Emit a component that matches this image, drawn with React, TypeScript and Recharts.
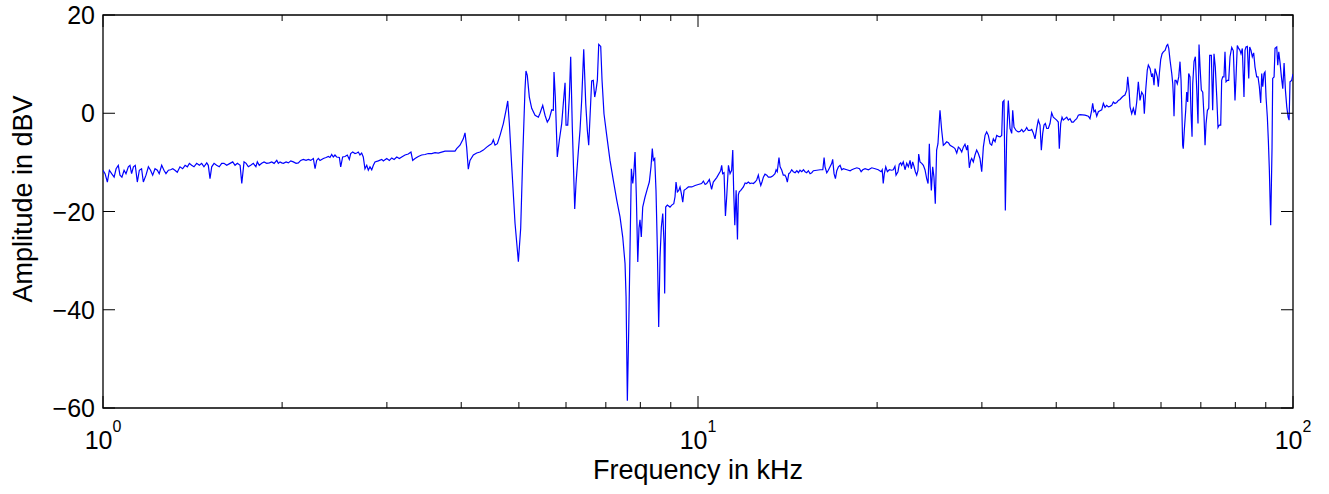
import React from "react";
import { Line, LineChart, XAxis, YAxis, Label, ReferenceArea } from "recharts";

// measured spectrum, [frequency in kHz, amplitude in dBV], split by band
const band1to27: [number, number][] = [
  [1.0, -11.6], [1.008, -12.3], [1.017, -14.0], [1.025, -11.6], [1.034, -12.3], [1.044, -13.0], [1.052, -11.3],
  [1.061, -10.6], [1.068, -12.6], [1.076, -13.0], [1.085, -11.6], [1.093, -12.3], [1.103, -10.9], [1.11, -10.6],
  [1.117, -12.3], [1.125, -10.9], [1.133, -10.6], [1.142, -14.0], [1.151, -11.6], [1.161, -11.3], [1.169, -14.0],
  [1.181, -12.6], [1.192, -10.9], [1.202, -11.6], [1.212, -12.6], [1.223, -11.3], [1.234, -11.6], [1.243, -12.3],
  [1.255, -10.6], [1.266, -11.6], [1.276, -12.3], [1.288, -11.6], [1.299, -11.5], [1.31, -11.3], [1.321, -11.6],
  [1.333, -12.0], [1.347, -10.9], [1.361, -11.3], [1.374, -10.6], [1.386, -10.9], [1.397, -10.2], [1.409, -10.6],
  [1.422, -10.9], [1.437, -10.2], [1.452, -10.6], [1.465, -10.2], [1.478, -10.9], [1.494, -10.1], [1.503, -10.6],
  [1.513, -13.3], [1.523, -10.9], [1.537, -10.2], [1.552, -10.6], [1.568, -10.9], [1.583, -10.2], [1.597, -10.2],
  [1.614, -10.6], [1.635, -10.2], [1.652, -9.9], [1.667, -10.6], [1.682, -10.2], [1.7, -10.6], [1.711, -14.3],
  [1.726, -9.9], [1.74, -10.2], [1.755, -10.9], [1.771, -10.6], [1.789, -10.2], [1.807, -10.9], [1.817, -9.9],
  [1.831, -10.6], [1.848, -10.2], [1.865, -9.9], [1.884, -10.2], [1.904, -10.1], [1.921, -9.9], [1.939, -10.2],
  [1.959, -9.6], [1.971, -10.2], [1.984, -9.9], [1.997, -10.1], [2.01, -10.2], [2.031, -9.9], [2.049, -10.1],
  [2.068, -9.7], [2.089, -9.9], [2.111, -10.2], [2.13, -10.1], [2.149, -9.6], [2.171, -9.4], [2.194, -9.6],
  [2.214, -9.4], [2.234, -9.6], [2.257, -9.2], [2.272, -11.3], [2.286, -9.6], [2.301, -9.2], [2.316, -9.6],
  [2.331, -9.4], [2.346, -9.2], [2.371, -9.0], [2.392, -8.8], [2.407, -9.0], [2.423, -8.4], [2.438, -8.9],
  [2.454, -8.5], [2.47, -8.9], [2.496, -9.0], [2.509, -10.9], [2.528, -8.9], [2.551, -8.8], [2.574, -8.5],
  [2.594, -9.4], [2.608, -8.2], [2.628, -7.9], [2.652, -8.2], [2.67, -8.1], [2.686, -7.9],
];

const band27to51: [number, number][] = [
  [2.703, -8.5], [2.721, -8.1], [2.738, -8.9], [2.756, -11.3], [2.775, -10.6], [2.792, -11.6], [2.81, -10.9],
  [2.829, -11.5], [2.847, -10.6], [2.865, -9.9], [2.902, -9.7], [2.941, -9.4], [2.959, -9.7], [2.998, -9.2],
  [3.029, -9.6], [3.057, -9.1], [3.085, -9.4], [3.117, -8.9], [3.148, -9.2], [3.177, -8.9], [3.218, -8.5],
  [3.259, -8.3], [3.293, -7.9], [3.315, -9.6], [3.345, -9.2], [3.388, -8.8], [3.432, -8.5], [3.477, -8.4],
  [3.521, -8.2], [3.568, -8.2], [3.614, -8.0], [3.66, -8.1], [3.708, -7.9], [3.757, -7.7], [3.805, -7.7],
  [3.855, -7.7], [3.905, -7.7], [3.93, -7.2], [3.981, -6.5], [4.032, -5.2], [4.059, -4.0], [4.085, -6.9],
  [4.111, -11.4], [4.138, -9.6], [4.192, -8.5], [4.247, -8.1], [4.302, -7.9], [4.357, -7.5], [4.415, -6.9],
  [4.459, -6.5], [4.501, -6.2], [4.529, -5.4], [4.559, -6.5], [4.6, -6.2], [4.648, -4.5], [4.708, -2.1],
  [4.757, 0.6], [4.789, 2.5], [4.819, -2.1], [4.864, -10.9], [4.926, -22.4], [4.99, -30.2], [5.035, -23.4],
  [5.075, -8.9], [5.119, 4.7],
];

const band51to11: [number, number][] = [
  [5.139, 8.6], [5.165, 7.7], [5.206, 3.3], [5.254, 1.0], [5.323, -0.4], [5.391, -0.8], [5.426, 0.0],
  [5.483, 1.6], [5.532, -0.4], [5.581, -1.8], [5.625, -1.1], [5.677, 0.7], [5.713, 0.6], [5.728, 8.4],
  [5.757, 3.3], [5.801, -8.9], [5.847, -5.5], [5.901, -2.1], [5.938, 2.0], [5.978, 6.2], [6.001, -2.4],
  [6.04, -2.4], [6.078, 3.3], [6.11, 11.5], [6.148, -2.8], [6.206, -19.5], [6.237, -14.3], [6.292, -7.9],
  [6.334, -3.5], [6.375, 2.6], [6.426, 13.0], [6.476, 2.0], [6.517, -3.5], [6.551, -6.5], [6.584, -0.8],
  [6.627, 6.6], [6.668, 6.7], [6.705, 3.3], [6.739, 4.7], [6.774, 6.7], [6.81, 14.0], [6.863, 13.6],
  [6.898, 6.7], [6.95, -0.1], [7.024, -4.5], [7.114, -9.6], [7.205, -13.6], [7.302, -17.7], [7.395, -21.1],
  [7.473, -25.2], [7.54, -30.6], [7.57, -37.3], [7.608, -58.5], [7.648, -44.1], [7.688, -27.1], [7.727, -11.3],
  [7.769, -14.3], [7.799, -12.3], [7.838, -7.9], [7.878, -17.1], [7.921, -30.3], [7.958, -23.4], [7.989, -21.7],
  [8.03, -25.2], [8.074, -19.1], [8.145, -17.1], [8.219, -15.4], [8.283, -14.0], [8.337, -10.9], [8.379, -7.2],
  [8.412, -9.6], [8.457, -9.2], [8.5, -15.7], [8.543, -27.2], [8.589, -43.5], [8.633, -29.3], [8.677, -23.2],
  [8.725, -20.4], [8.769, -26.5], [8.79, -36.7], [8.825, -19.1], [8.881, -18.7], [8.973, -19.1], [9.034, -18.7],
  [9.105, -18.4], [9.149, -17.0], [9.185, -14.0], [9.232, -16.0], [9.283, -15.7], [9.328, -15.0], [9.375, -16.3],
  [9.427, -18.1], [9.475, -15.7], [9.547, -15.4], [9.634, -15.0], [9.761, -15.0], [9.888, -14.7], [10.01, -14.5],
  [10.14, -14.3], [10.21, -13.8], [10.28, -14.5], [10.34, -14.3], [10.45, -13.5], [10.54, -15.5], [10.61, -14.0],
  [10.75, -13.1], [10.89, -11.9],
];

const band11to25: [number, number][] = [
  [10.92, -11.6], [10.96, -10.6], [11.0, -12.3], [11.06, -12.1], [11.12, -20.9], [11.18, -16.6], [11.25, -10.6],
  [11.32, -12.3], [11.39, -11.6], [11.44, -7.5], [11.48, -15.7], [11.53, -22.8], [11.59, -15.7], [11.65, -25.7],
  [11.69, -16.6], [11.73, -16.0], [11.8, -15.7], [11.92, -15.0], [12.0, -14.2], [12.07, -14.3], [12.15, -14.0],
  [12.23, -14.3], [12.31, -14.2], [12.39, -14.3], [12.47, -14.0], [12.55, -13.6], [12.63, -12.6], [12.68, -13.6],
  [12.75, -14.7], [12.81, -14.0], [12.88, -13.0], [12.96, -12.4], [13.05, -12.6], [13.13, -13.0], [13.25, -13.0],
  [13.35, -12.8], [13.47, -12.3], [13.53, -11.5], [13.59, -11.9], [13.68, -9.0], [13.74, -10.9], [13.83, -11.6],
  [13.91, -12.6], [14.0, -12.6], [14.06, -13.0], [14.13, -14.0], [14.21, -12.3], [14.28, -12.1], [14.37, -11.5],
  [14.46, -11.9], [14.56, -12.1], [14.66, -11.7], [14.75, -12.1], [14.84, -11.6], [14.94, -11.9], [15.04, -11.5],
  [15.13, -11.9], [15.23, -12.1], [15.33, -11.7], [15.43, -12.3], [15.53, -12.1], [15.63, -11.7], [15.84, -11.6],
  [16.04, -11.5], [16.21, -11.5], [16.29, -9.0], [16.35, -10.9], [16.46, -12.1], [16.56, -11.6], [16.67, -10.9],
  [16.78, -10.2], [16.84, -9.4], [16.93, -12.3], [17.02, -13.3], [17.11, -11.7], [17.22, -10.9], [17.33, -10.6],
  [17.44, -11.5], [17.55, -11.3], [17.79, -11.5], [18.02, -11.7], [18.13, -11.5], [18.3, -11.3], [18.49, -11.1],
  [18.68, -11.3], [18.8, -11.9], [18.92, -11.5], [19.09, -11.3], [19.34, -11.5], [19.59, -11.1], [19.85, -11.3],
  [20.09, -11.5], [20.31, -11.9], [20.4, -11.5], [20.48, -14.3], [20.56, -12.4], [20.68, -10.9], [20.81, -11.9],
  [20.97, -11.5], [21.16, -11.6], [21.29, -11.5], [21.43, -10.8], [21.52, -12.6], [21.68, -11.9], [21.79, -10.4],
  [21.91, -10.1], [21.99, -10.6], [22.13, -9.9], [22.28, -11.5], [22.43, -10.2], [22.57, -10.9], [22.72, -9.6],
  [22.83, -11.3], [22.95, -9.9], [23.07, -10.8], [23.19, -11.9], [23.31, -12.6], [23.43, -11.6], [23.49, -8.3],
  [23.61, -9.9], [23.77, -10.2], [23.92, -10.6], [24.07, -11.5], [24.23, -13.3], [24.36, -14.3], [24.48, -6.2],
  [24.54, -10.2], [24.67, -15.7], [24.8, -10.9], [24.92, -13.0], [25.05, -18.4], [25.18, -7.5], [25.31, -6.2],
];

const band25to57: [number, number][] = [
  [25.51, 0.6], [25.68, -3.5], [25.84, -6.5], [26.01, -6.2], [26.18, -5.8], [26.35, -6.0], [26.52, -6.5],
  [26.86, -6.9], [27.03, -7.2], [27.22, -8.1], [27.39, -6.9], [27.56, -7.2], [27.75, -7.9], [27.92, -6.9],
  [28.1, -6.3], [28.29, -7.5], [28.4, -6.5], [28.58, -11.1], [28.73, -9.6], [28.84, -9.2], [29.02, -9.9],
  [29.21, -8.5], [29.4, -7.5], [29.59, -8.2], [29.78, -9.2], [29.98, -11.9], [30.17, -6.9], [30.37, -4.5],
  [30.56, -3.8], [30.76, -4.5], [30.96, -6.2], [31.16, -6.5], [31.36, -5.2], [31.57, -5.8], [31.77, -4.5],
  [31.97, -4.7], [32.18, -4.8], [32.39, -4.5], [32.52, 2.3], [32.68, 2.6], [32.85, -19.8], [33.02, -4.8],
  [33.23, 2.6], [33.45, -3.1], [33.67, -4.1], [33.8, 0.6], [33.97, -2.8], [34.24, -3.5], [34.54, -3.8],
  [34.77, -3.7], [35.0, -3.3], [35.21, -3.8], [35.45, -3.5], [35.68, -2.9], [35.9, -3.5], [36.14, -3.5],
  [36.38, -3.3], [36.6, -4.0], [36.85, -5.2], [37.09, -3.1], [37.32, -1.4], [37.57, -2.4], [37.76, -7.5],
  [37.96, -4.1], [38.15, -2.4], [38.35, -2.1], [38.56, -3.1], [38.79, -3.1], [39.05, -2.1], [39.3, 0.1],
  [39.55, -0.8], [39.81, -1.1], [40.07, -1.4], [40.32, -1.8], [40.48, -7.2], [40.7, -2.1], [40.91, -0.8],
  [41.11, -1.4], [41.38, -1.1], [41.66, -0.8], [41.92, -1.4], [42.19, -1.1], [42.47, -1.8], [42.74, -1.8],
  [43.02, -1.4], [43.3, -1.1], [43.57, -0.4], [43.85, -0.3], [44.71, -0.4], [45.29, -0.6], [45.58, -1.1],
  [45.88, 0.6], [46.06, 2.0], [46.29, 0.3], [46.53, 0.6], [46.79, -0.6], [47.08, 0.3], [47.38, 0.5],
  [47.7, 0.7], [48.0, 2.0], [48.31, 1.2], [48.63, 1.6], [48.94, 1.3], [49.25, 1.4], [49.58, 1.6],
  [49.89, 2.3], [50.21, 2.0], [50.55, 2.2], [50.87, 2.6], [51.19, 2.8], [51.54, 3.2], [51.86, 3.5],
  [52.19, 3.7], [52.54, 4.7], [52.75, 7.4], [53.02, 4.7], [53.23, 1.3], [53.57, -0.1], [53.91, 1.0],
  [54.27, -0.4], [54.62, 2.3], [54.96, 6.4], [55.32, 2.6], [55.68, 4.3], [56.03, 3.7], [56.25, -0.1],
  [56.55, 4.7], [56.9, 8.8],
];

const band57to100: [number, number][] = [
  [57.13, 9.8], [57.51, 9.1], [57.88, 7.4], [58.11, 8.1], [58.4, 5.7], [58.63, 9.1], [58.85, 8.4],
  [59.15, 7.4], [59.38, 5.4], [59.62, 8.1], [59.93, 10.9], [60.24, 12.1], [60.54, 12.5], [60.95, 12.8],
  [61.34, 13.8], [61.58, 14.0], [61.83, 13.2], [62.14, 10.8], [62.55, 8.1], [62.79, 6.0], [62.95, 3.3],
  [63.1, -0.6], [63.34, 6.7], [63.59, 6.7], [63.9, 6.0], [64.26, 7.4], [64.58, 10.5], [64.84, 6.7],
  [65.07, -0.1], [65.25, -6.5], [65.4, -7.2], [65.66, -3.5], [66.02, 0.6], [66.27, 4.3], [66.53, 2.3],
  [66.79, 8.1], [67.13, 7.4], [67.4, -0.1], [67.66, -4.8], [67.84, 6.0], [68.18, 10.5], [68.53, 11.5],
  [68.89, 5.0], [69.24, -2.1], [69.51, 14.0], [69.79, 9.4], [70.14, 4.7], [70.52, 4.3], [70.88, -0.8],
  [71.15, -6.5], [71.43, -2.1], [71.8, 0.6], [72.18, 1.0], [72.44, 11.8], [72.91, 11.8], [73.28, 0.6],
  [73.66, 12.1], [74.03, 9.4], [74.45, 3.3], [74.81, -2.9], [75.18, -2.4], [75.6, -2.4], [75.88, 6.7],
  [76.18, 7.4], [76.56, 7.4], [76.86, 12.5], [77.17, 6.4], [77.56, 6.7], [77.97, 6.7], [78.37, 11.5],
  [78.89, 13.4], [79.38, 12.7], [79.89, 2.6], [80.2, 7.1], [80.61, 13.8], [81.04, 13.2], [81.45, 12.8],
  [81.77, 12.1], [82.19, 13.2], [82.72, 3.3], [83.05, 12.8], [83.37, 13.5], [83.8, 13.6], [84.26, 7.1],
  [84.57, 13.5], [85.0, 12.8], [85.43, 11.5], [85.88, 12.3], [86.33, 9.4], [86.9, 7.4], [87.34, 7.4],
  [87.79, 5.4], [88.25, 2.1], [88.6, 8.1], [88.95, 5.4], [89.4, 8.1], [89.74, 8.4], [90.09, 3.3],
  [90.55, -0.8], [90.9, -5.5], [91.26, -11.6], [91.49, -17.1], [91.73, -22.8], [92.21, -6.9], [92.44, 7.1],
  [92.94, 7.4], [93.28, 13.2], [93.9, 13.5], [94.27, 9.8], [94.64, 12.5], [95.13, 10.2], [95.61, 7.4],
  [96.12, 5.0], [96.61, 10.2], [97.11, 4.7], [97.62, 1.3], [98.12, -0.8], [98.5, -1.4], [98.85, 6.4],
  [99.49, 6.7], [100, 8.0],
];

const decadeTicks = [1, 10, 100];
const xTicks = [1, 2, 3, 4, 5, 6, 7, 8, 9, 10, 20, 30, 40, 50, 60, 70, 80, 90, 100];
const yTicks = [-60, -40, -20, 0, 20];

const data = [...band1to27, ...band27to51, ...band51to11, ...band11to25, ...band25to57, ...band57to100].map(
  ([f, db]) => ({ f, db })
);

const FONT = "'Liberation Sans', Arial, Helvetica, sans-serif";
// plot box size in px (chart is fixed size)
const PLOT_W = 1190;
const PLOT_H = 393;

const fmtY = (v: number) => (v < 0 ? "\u2212" + Math.abs(v) : String(v));

// bottom tick also draws its twin on the top edge
const XTick = (props: any) => {
  const { x, y, payload } = props;
  const major = decadeTicks.includes(payload.value);
  const len = major ? 12 : 6;
  return (
    <g>
      <line x1={x} y1={y} x2={x} y2={y - len} stroke="#000" />
      <line x1={x} y1={y - PLOT_H} x2={x} y2={y - PLOT_H + len} stroke="#000" />
      {major && (
        <text x={x} y={y + 41} textAnchor="middle" fontSize={25} fontFamily={FONT} fill="#000">
          10
          <tspan dy={-17} fontSize={16}>
            {Math.round(Math.log10(payload.value))}
          </tspan>
        </text>
      )}
    </g>
  );
};

// left tick also draws its twin on the right edge
const YTick = (props: any) => {
  const { x, y, payload } = props;
  return (
    <g>
      <line x1={x} y1={y} x2={x + 12} y2={y} stroke="#000" />
      <line x1={x + PLOT_W} y1={y} x2={x + PLOT_W - 12} y2={y} stroke="#000" />
      <text x={x - 8} y={y + 9} textAnchor="end" fontSize={25} fontFamily={FONT} fill="#000">
        {fmtY(payload.value)}
      </text>
    </g>
  );
};

export default function App() {
  return (
    <div style={{ position: "absolute", left: 0, top: 0, background: "#fff" }}>
      <LineChart width={1329} height={494} data={data} margin={{ top: 15, right: 36, bottom: 0, left: 0 }}>
        <XAxis
          dataKey="f"
          type="number"
          scale="log"
          domain={[1, 100]}
          ticks={xTicks}
          interval={0}
          allowDataOverflow
          height={86}
          tickSize={0}
          tickMargin={0}
          tickLine={false}
          tick={<XTick />}
          axisLine={false}
        >
          <Label
            content={() => (
              <text x={698} y={479} textAnchor="middle" fontSize={27} fontFamily={FONT} fill="#000">
                Frequency in kHz
              </text>
            )}
          />
        </XAxis>
        <YAxis
          type="number"
          domain={[-60, 20]}
          ticks={yTicks}
          interval={0}
          allowDataOverflow
          width={103}
          tickSize={0}
          tickMargin={0}
          tickLine={false}
          tick={<YTick />}
          axisLine={false}
        >
          <Label
            content={() => (
              <text
                x={32}
                y={199}
                transform="rotate(-90 32 199)"
                textAnchor="middle"
                fontSize={27}
                fontFamily={FONT}
                fill="#000"
              >
                Amplitude in dBV
              </text>
            )}
          />
        </YAxis>
        <ReferenceArea
          x1={1}
          x2={100}
          y1={-60}
          y2={20}
          fill="none"
          stroke="#000"
          strokeWidth={1.3}
          ifOverflow="visible"
        />
        <Line
          dataKey="db"
          type="linear"
          stroke="#0000ff"
          strokeWidth={1.2}
          dot={false}
          isAnimationActive={false}
        />
      </LineChart>
    </div>
  );
}
